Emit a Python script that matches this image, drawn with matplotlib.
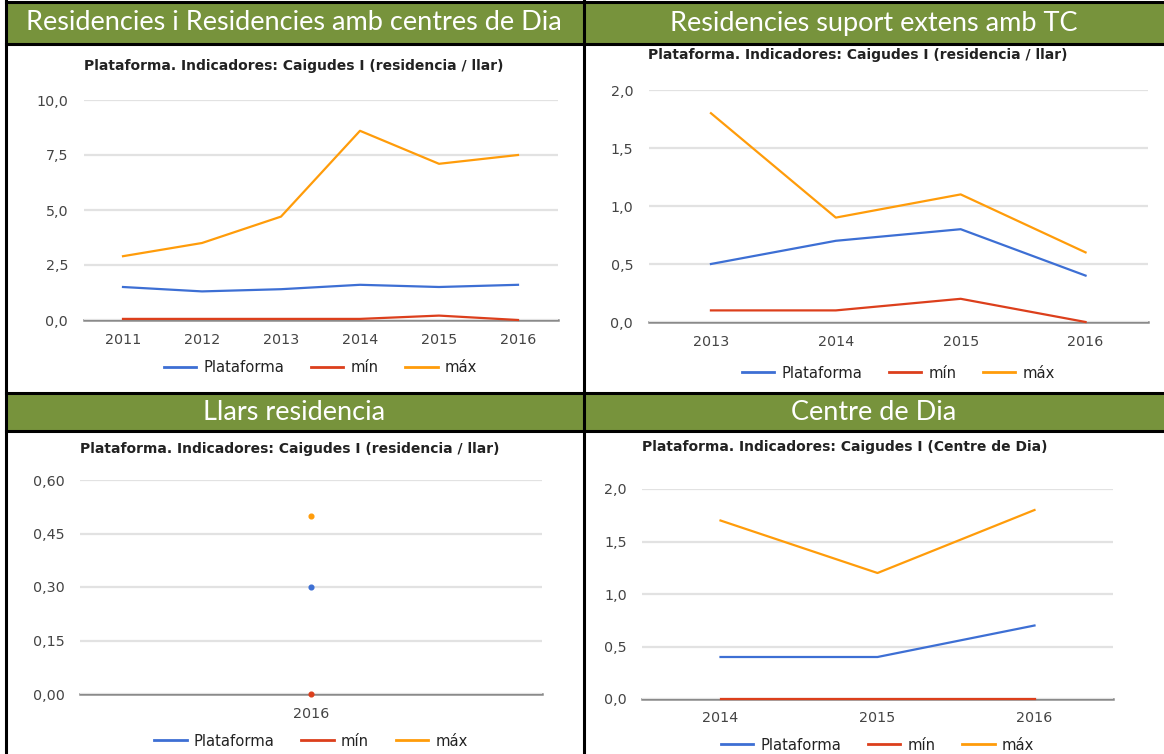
import numpy as np
import matplotlib.pyplot as plt
from matplotlib.patches import Rectangle
from matplotlib.lines import Line2D

W, H = 1164, 754

# ---- dades ----
anys_res = ["2011", "2012", "2013", "2014", "2015", "2016"]
plat_res = [1.5, 1.3, 1.4, 1.6, 1.5, 1.6]
min_res = [0.05, 0.05, 0.05, 0.05, 0.2, 0.0]
max_res = [2.9, 3.5, 4.7, 8.6, 7.1, 7.5]
yt_res = [0, 2.5, 5.0, 7.5, 10.0]

anys_tc = ["2013", "2014", "2015", "2016"]
plat_tc = [0.5, 0.7, 0.8, 0.4]
min_tc = [0.1, 0.1, 0.2, 0.0]
max_tc = [1.8, 0.9, 1.1, 0.6]
yt_tc = [0, 0.5, 1.0, 1.5, 2.0]

anys_llar = ["2016"]
plat_llar = [0.30]
min_llar = [0.0]
max_llar = [0.50]
yt_llar = [0, 0.15, 0.30, 0.45, 0.60]

anys_cd = ["2014", "2015", "2016"]
plat_cd = [0.4, 0.4, 0.7]
min_cd = [0.0, 0.0, 0.0]
max_cd = [1.7, 1.2, 1.8]
yt_cd = [0, 0.5, 1.0, 1.5, 2.0]

capcaleres = ["Residencies i Residencies amb centres de Dia", "Residencies suport extens amb TC",
              "Llars residencia", "Centre de Dia"]
titol_llar = "Plataforma. Indicadores: Caigudes I (residencia / llar)"
titol_cd = "Plataforma. Indicadores: Caigudes I (Centre de Dia)"
noms = ["Plataforma", "mín", "máx"]
colors = ["#3d6fd4", "#dc3f1c", "#ff9c0a"]

VERD = "#77933c"


def box(x0, y0, x1, y1):
    # pixels (origen a dalt) -> coordenades de figura
    return [x0 / W, 1 - y1 / H, (x1 - x0) / W, (y1 - y0) / H]


fig = plt.figure(figsize=(W / 100, H / 100), dpi=100)
fig.patch.set_facecolor("white")

# ---- taula: capçaleres verdes i vores ----
for (x0, y0, x1, y1) in [(6, 2, 584, 43), (584, 2, 1164, 43), (6, 393, 584, 430), (584, 393, 1164, 430)]:
    fig.add_artist(Rectangle((x0 / W, 1 - y1 / H), (x1 - x0) / W, (y1 - y0) / H,
                             transform=fig.transFigure, facecolor=VERD, edgecolor="none"))
for y in [1.5, 43.5, 392.5, 430.5]:
    fig.add_artist(Line2D([6 / W, 1], [1 - y / H] * 2, transform=fig.transFigure, color="black", lw=2.2))
for x in [5.5, 584]:
    fig.add_artist(Line2D([x / W] * 2, [0, 1], transform=fig.transFigure, color="black", lw=2.2))

cap_pos = [(294, 23), (874, 23), (294, 412), (874, 412)]
for txt, (cx, cy) in zip(capcaleres, cap_pos):
    fig.text(cx / W, 1 - cy / H, txt, ha="center", va="center", color="white",
             fontsize=19.5, family="Lato")

plt.rcParams["font.family"] = ["DejaVu Sans"]


def grafic(rect, anys, series, yticks, fmt, titol, titol_y, leg_y):
    ax = fig.add_axes(box(*rect))
    n = len(anys)
    x = np.arange(n)
    for vals, c in zip(series, colors):
        if n == 1:
            ax.plot(x, vals, "o", color=c, ms=3.4, zorder=3)
        else:
            ax.plot(x, vals, color=c, lw=1.6, zorder=3, solid_joinstyle="round")
    ax.set_xlim(-0.5, n - 0.5)
    ax.set_ylim(yticks[0], yticks[-1])
    ax.set_yticks(yticks)
    ax.set_yticklabels([fmt.format(v).replace(".", ",") for v in yticks])
    ax.set_xticks(x)
    ax.set_xticklabels(anys)
    ax.tick_params(length=0, labelsize=10.3, labelcolor="#444444")
    ax.tick_params(axis="y", pad=11)
    ax.tick_params(axis="x", pad=9)
    ax.grid(axis="y", color="#e2e2e2", lw=1.6, zorder=0)
    ax.axhline(0, color="#8a8a8a", lw=1.8, zorder=1)
    for s in ax.spines.values():
        s.set_visible(False)
    for ln in ax.lines:
        ln.set_clip_on(False)
    hy = rect[3]
    ax.text(0, 1 + (rect[1] - titol_y) / (hy - rect[1]), titol, transform=ax.transAxes,
            ha="left", va="center", fontsize=10, fontweight="bold", color="#222222")
    hand = [Line2D([], [], color=c, lw=2) for c in colors]
    ax.legend(hand, noms, loc="center", bbox_to_anchor=(0.5, -(leg_y - hy) / (hy - rect[1])),
              ncol=3, frameon=False, fontsize=10.6, handlelength=2.2, handletextpad=0.5,
              columnspacing=1.8, labelcolor="#222222")
    return ax


grafic((83.5, 100, 557.5, 320), anys_res, [plat_res, min_res, max_res], yt_res, "{:.1f}",
       titol_llar, 66, 368)
grafic((648.5, 90, 1148, 322), anys_tc, [plat_tc, min_tc, max_tc], yt_tc, "{:.1f}",
       titol_llar, 55, 373)
grafic((80, 480, 542, 694), anys_llar, [plat_llar, min_llar, max_llar], yt_llar, "{:.2f}",
       titol_llar, 449, 741)
grafic((642, 489, 1113, 699), anys_cd, [plat_cd, min_cd, max_cd], yt_cd, "{:.1f}",
       titol_cd, 447, 745)

fig.savefig("out.png", dpi=100)
